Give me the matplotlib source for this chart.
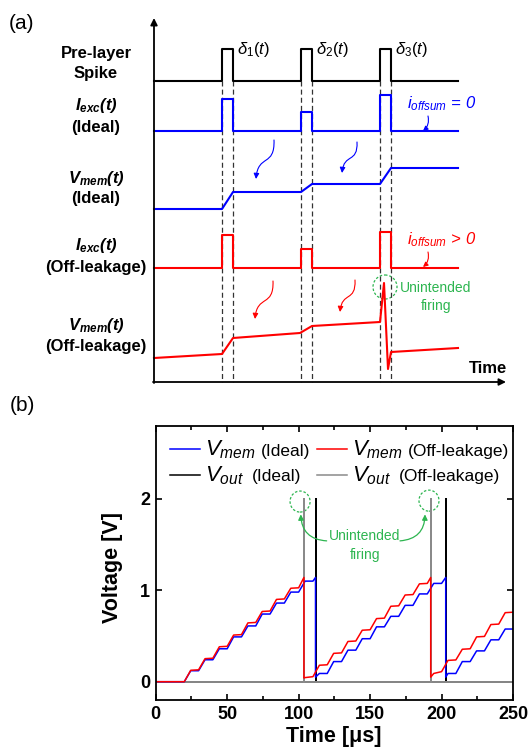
import numpy as np
import matplotlib
matplotlib.use("Agg")
import matplotlib.pyplot as plt
from matplotlib.patches import Ellipse, FancyArrowPatch, Circle
from matplotlib.path import Path

plt.rcParams["font.family"] = ["Liberation Sans", "DejaVu Sans"]
plt.rcParams["mathtext.fontset"] = "custom"
plt.rcParams["mathtext.rm"] = "Liberation Sans"
plt.rcParams["mathtext.it"] = "Liberation Sans:italic"
plt.rcParams["mathtext.bf"] = "Liberation Sans:bold"
plt.rcParams["mathtext.bfit"] = "Liberation Sans:bold:italic"

GREEN = "#2db550"
BLUE, RED, GRAY = "#0000ff", "#ff0000", "#8a8a8a"

# --- (a) schematic, figure pixel units ---
trace_start, trace_end = 154, 458
spike_on = [222, 301, 380]
spike_off = [233, 312, 391]
pre_base, pre_high = 81, 49
iexc_ideal_base = 131
iexc_ideal_peak = [99, 112, 95]
iexc_leak_base = 268
iexc_leak_peak = [235, 249, 232]
vmem_ideal_level = [209, 192, 184, 168]
vmem_leak_x = [154, 222, 233, 300, 312, 380, 384, 388, 391, 458]
vmem_leak_y = [358, 354, 338, 333, 326, 322, 283, 369, 352, 348]

# --- (b) simulation, time in us, voltage in V ---
t_blue = [0, 20, 24.5, 30, 34.5, 40, 44.5, 50, 54.5, 60, 64.5, 70, 74.5, 80, 84.5, 90,
          94.5, 100, 104.5, 110, 111.8, 111.8, 114.5, 120, 124.5, 130, 134.5, 140, 144.5,
          150, 154.5, 160, 164.5, 170, 174.5, 180, 184.5, 190, 194.5, 200, 202.9, 202.9,
          204.5, 210, 214.5, 220, 224.5, 230, 234.5, 240, 244.5, 250]
v_blue = [0, 0, 0.12, 0.12, 0.24, 0.24, 0.36, 0.36, 0.49, 0.49, 0.61, 0.61, 0.74, 0.74,
          0.86, 0.86, 0.98, 0.98, 1.10, 1.10, 1.14, 0.05, 0.09, 0.09, 0.22, 0.22, 0.345,
          0.345, 0.47, 0.47, 0.60, 0.60, 0.715, 0.715, 0.835, 0.835, 0.96, 0.96, 1.075,
          1.075, 1.14, 0.05, 0.09, 0.09, 0.22, 0.22, 0.337, 0.337, 0.458, 0.458, 0.576, 0.576]
t_red = [0, 20, 24.5, 30, 34.5, 40, 44.5, 50, 54.5, 60, 64.5, 70, 74.5, 80, 84.5, 90,
         94.5, 100, 103.7, 103.7, 104.5, 110, 114.5, 120, 124.5, 130, 134.5, 140, 144.5,
         150, 154.5, 160, 164.5, 170, 174.5, 180, 184.5, 190, 192.4, 192.4, 194.5, 200,
         204.5, 210, 214.5, 220, 224.5, 230, 234.5, 240, 244.5, 250]
v_red = [0, 0, 0.125, 0.13, 0.252, 0.257, 0.382, 0.387, 0.51, 0.515, 0.643, 0.648, 0.768,
         0.773, 0.9, 0.905, 1.022, 1.027, 1.14, 0.04, 0.045, 0.055, 0.18, 0.185, 0.31,
         0.315, 0.44, 0.445, 0.563, 0.568, 0.69, 0.695, 0.825, 0.83, 0.948, 0.953, 1.07,
         1.075, 1.14, 0.05, 0.09, 0.11, 0.233, 0.238, 0.355, 0.36, 0.49, 0.495, 0.625,
         0.63, 0.755, 0.76]
fire_ideal = [111.8, 202.9]
fire_leak = [103.7, 192.4]
v_fire = 2.0

# legend entries: subscript, case, colour
legend_sub = ["mem", "mem", "out", "out"]
legend_case = ["(Ideal)", "(Off-leakage)", "(Ideal)", "(Off-leakage)"]
legend_color = [BLUE, RED, "k", GRAY]


def pulse_train(base, peaks):
    xs, ys = [trace_start], [base]
    for on, off, pk in zip(spike_on, spike_off, peaks):
        xs += [on, on, off, off]
        ys += [base, pk, pk, base]
    xs.append(trace_end)
    ys.append(base)
    return xs, ys


def fire_trace(times):
    xs, ys = [0], [0]
    for tf in times:
        xs += [tf, tf, tf]
        ys += [0, v_fire, 0]
    xs.append(250)
    ys.append(0)
    return xs, ys


fig = plt.figure(figsize=(5.3, 7.53), dpi=100)

# ===== panel (a) =====
ax_a = fig.add_axes([0, 0, 1, 1])
ax_a.set_xlim(0, 530)
ax_a.set_ylim(753, 0)
ax_a.axis("off")

ax_a.annotate("", xy=(154, 18), xytext=(154, 383),
              arrowprops=dict(arrowstyle="-|>", lw=1.3, color="k", mutation_scale=10,
                              shrinkA=0, shrinkB=0))
ax_a.annotate("", xy=(506, 382), xytext=(153, 382),
              arrowprops=dict(arrowstyle="-|>", lw=1.3, color="k", mutation_scale=10,
                              shrinkA=0, shrinkB=0))

for xe in spike_on + spike_off:
    ax_a.plot([xe, xe], [pre_base, 382], ls=(0, (4, 2.5)), color="#333333", lw=0.9)

px, py = pulse_train(pre_base, [pre_high] * 3)
ax_a.plot(px, py, color="k", lw=1.5)
px, py = pulse_train(iexc_ideal_base, iexc_ideal_peak)
ax_a.plot(px, py, color=BLUE, lw=1.5)
px, py = pulse_train(iexc_leak_base, iexc_leak_peak)
ax_a.plot(px, py, color=RED, lw=1.5)

vx = [trace_start]
vy = [vmem_ideal_level[0]]
for i, (on, off) in enumerate(zip(spike_on, spike_off)):
    vx += [on, off]
    vy += [vmem_ideal_level[i], vmem_ideal_level[i + 1]]
vx.append(trace_end)
vy.append(vmem_ideal_level[-1])
ax_a.plot(vx, vy, color=BLUE, lw=1.5)
ax_a.plot(vmem_leak_x, vmem_leak_y, color=RED, lw=1.5)

lab = dict(ha="center", va="center", fontsize=12, fontweight="bold")
ax_a.text(96, 53, "Pre-layer", **lab)
ax_a.text(96, 73, "Spike", **lab)
ax_a.text(96, 105, r"$\mathbfit{I}_{\mathbfit{exc}}\mathbfit{(t)}$", **lab)
ax_a.text(96, 127, "(Ideal)", **lab)
ax_a.text(96, 178, r"$\mathbfit{V}_{\mathbfit{mem}}\mathbfit{(t)}$", **lab)
ax_a.text(96, 198, "(Ideal)", **lab)
ax_a.text(96, 245, r"$\mathbfit{I}_{\mathbfit{exc}}\mathbfit{(t)}$", **lab)
ax_a.text(96, 267, "(Off-leakage)", **lab)
ax_a.text(96, 325, r"$\mathbfit{V}_{\mathbfit{mem}}\mathbfit{(t)}$", **lab)
ax_a.text(96, 346, "(Off-leakage)", **lab)

for i, xo in enumerate(spike_off):
    ax_a.text(xo + 4, 49, r"$\mathit{\delta}_{\mathit{%d}}\mathit{(t)}$" % (i + 1),
              ha="left", va="center", fontsize=12)

ax_a.text(22, 23, "(a)", ha="center", va="center", fontsize=15)
ax_a.text(488, 368, "Time", ha="center", va="center", fontsize=12, fontweight="bold")

ax_a.text(407, 104, r"$\mathit{i}_{\mathit{offsum}}$ = 0", ha="left", va="center",
          fontsize=12, color=BLUE, style="italic")
ax_a.text(407, 240, r"$\mathit{i}_{\mathit{offsum}}$ > 0", ha="left", va="center",
          fontsize=12, color=RED, style="italic")
ax_a.annotate("", xy=(423, 131), xytext=(428, 116),
              arrowprops=dict(arrowstyle="-|>", color=BLUE, lw=0.8, mutation_scale=7,
                              connectionstyle="arc3,rad=-0.3", shrinkA=0, shrinkB=0))
ax_a.annotate("", xy=(423, 267), xytext=(428, 252),
              arrowprops=dict(arrowstyle="-|>", color=RED, lw=0.8, mutation_scale=7,
                              connectionstyle="arc3,rad=-0.3", shrinkA=0, shrinkB=0))

for (x0, y0, x1, y1, col) in [(274, 140, 256, 179, BLUE), (357, 142, 342, 173, BLUE),
                              (273, 281, 255, 319, RED), (355, 280, 340, 312, RED)]:
    dy = y1 - y0
    pth = Path([(x0, y0), (x0 + 1, y0 + 0.7 * dy), (x1 + 2, y0 + 0.35 * dy), (x1, y1)],
               [Path.MOVETO, Path.CURVE4, Path.CURVE4, Path.CURVE4])
    ax_a.add_patch(FancyArrowPatch(path=pth, arrowstyle="-|>", color=col, lw=0.8,
                                   mutation_scale=8))

ax_a.add_patch(Circle((385, 287), 12, fill=False, ls=(0, (2, 1.5)), color=GREEN, lw=0.9))
ax_a.text(436, 288, "Unintended", ha="center", va="center", fontsize=10, color=GREEN)
ax_a.text(436, 306, "firing", ha="center", va="center", fontsize=10, color=GREEN)
ax_a.text(22, 405, "(b)", ha="center", va="center", fontsize=15)

# ===== panel (b) =====
ax = fig.add_axes([0.2938, 0.0704, 0.6742, 0.3643])
ax.set_facecolor("none")
fx, fy = fire_trace(fire_ideal)
ax.plot(fx, fy, color="k", lw=1.4)
fx, fy = fire_trace(fire_leak)
ax.plot(fx, fy, color=GRAY, lw=1.4)
ax.plot(t_blue, v_blue, color=BLUE, lw=1.1)
ax.plot(t_red, v_red, color=RED, lw=1.1)

ax.set_xlim(0, 250)
ax.set_ylim(-0.2, 2.8)
ax.set_xticks([0, 50, 100, 150, 200, 250])
ax.set_xticks([25, 75, 125, 175, 225], minor=True)
ax.set_yticks([0, 1, 2])
ax.tick_params(which="both", direction="in", top=True, right=True, width=1.2)
ax.tick_params(which="major", length=4.5, labelsize=13, pad=4)
ax.tick_params(which="minor", length=3)
for lbl in ax.get_xticklabels() + ax.get_yticklabels():
    lbl.set_fontweight("bold")
for sp in ax.spines.values():
    sp.set_linewidth(1.3)
ax.set_xlabel("Time [μs]", fontsize=15.5, fontweight="bold")
ax.set_ylabel("Voltage [V]", fontsize=15.5, fontweight="bold")
ax.xaxis.set_label_coords(0.497, -0.093)
ax.yaxis.set_label_coords(-0.092, 0.483)

# legend, drawn by hand (large V with subscript, smaller case text)
leg_x = [170, 317, 170, 317]
leg_y = [449, 449, 474.5, 474.5]
leg_case_x = [261, 408, 252, 399]
for i in range(4):
    x0, y0 = leg_x[i], leg_y[i]
    ax_a.plot([x0, x0 + 30], [y0, y0], color=legend_color[i], lw=1.1)
    ax_a.text(x0 + 35, y0 + 6.5, r"$\mathit{V}_{\mathit{%s}}$" % legend_sub[i],
              ha="left", va="baseline", fontsize=16)
    ax_a.text(leg_case_x[i], y0 + 6.5, legend_case[i], ha="left", va="baseline",
              fontsize=12.5)

ax.add_patch(Ellipse((101, 1.97), 14, 0.23, fill=False, ls=(0, (2, 1.5)), color=GREEN, lw=0.9))
ax.add_patch(Ellipse((191.2, 1.98), 14, 0.23, fill=False, ls=(0, (2, 1.5)), color=GREEN, lw=0.9))
ax.text(146.4, 1.59, "Unintended", ha="center", va="center", fontsize=10, color=GREEN)
ax.text(146.4, 1.39, "firing", ha="center", va="center", fontsize=10, color=GREEN)
ax.annotate("", xy=(101.5, 1.83), xytext=(119.6, 1.54),
            arrowprops=dict(arrowstyle="-|>", color=GREEN, lw=0.9, mutation_scale=8,
                            connectionstyle="arc3,rad=-0.45", shrinkA=0, shrinkB=0))
ax.annotate("", xy=(188.4, 1.83), xytext=(170.9, 1.54),
            arrowprops=dict(arrowstyle="-|>", color=GREEN, lw=0.9, mutation_scale=8,
                            connectionstyle="arc3,rad=0.45", shrinkA=0, shrinkB=0))

fig.savefig("out.png", dpi=100)
